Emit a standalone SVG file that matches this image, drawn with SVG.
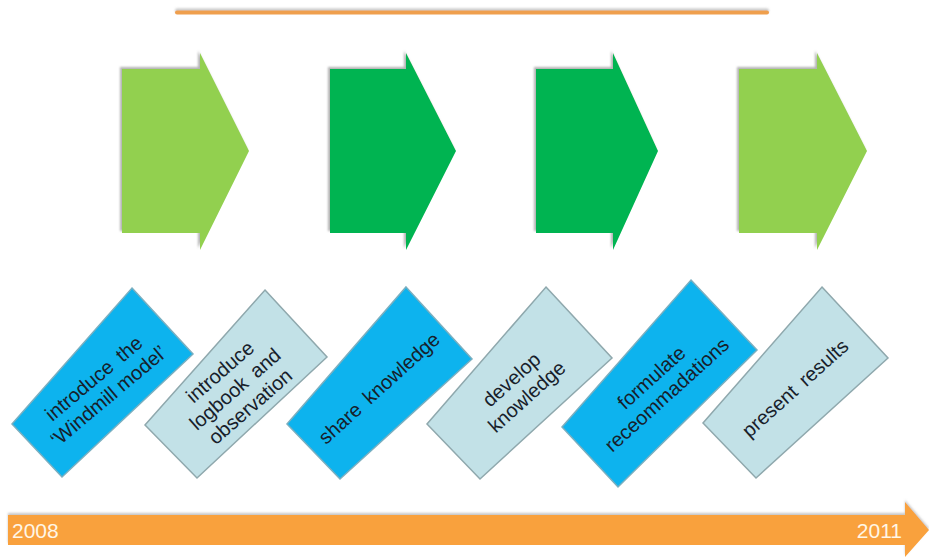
<svg xmlns="http://www.w3.org/2000/svg" width="929" height="557" viewBox="0 0 929 557">
<defs>
<filter id="sh" x="-10%" y="-10%" width="120%" height="120%">
<feDropShadow dx="-2" dy="-2" stdDeviation="1.2" flood-color="#808080" flood-opacity="0.6"/>
</filter>
<filter id="sh2" x="-5%" y="-100%" width="110%" height="300%">
<feDropShadow dx="0" dy="-2" stdDeviation="1.2" flood-color="#909090" flood-opacity="0.5"/>
</filter>
</defs>
<style>
.lg{fill:#92D050}
.dg{fill:#00B451}
.bl{fill:#0DB3EE;stroke:#7AAFC0;stroke-width:1.5}
.lb{fill:#C2E1E7;stroke:#8FA8AD;stroke-width:1.5}
.t{font-family:"Liberation Sans",Arial,sans-serif;font-size:20px;fill:#17202A;text-anchor:middle}
.yr{font-family:"Liberation Sans",Arial,sans-serif;font-size:21px;fill:#FFF6E6}
</style>
<rect width="929" height="557" fill="#FFFFFF"/>
<rect x="175" y="10.5" width="594" height="4" rx="2" fill="#EF9F4E" filter="url(#sh2)"/>
<g id="arrow1" filter="url(#sh)"><polygon class="lg" points="122,69 200,69 200,53 249,151 200,250 200,233 122,233"/></g>
<g id="arrow2" filter="url(#sh)"><polygon class="dg" points="330,69 406,69 406,53 456,151 406,250 406,233 330,233"/></g>
<g id="arrow3" filter="url(#sh)"><polygon class="dg" points="536,69 613,69 613,53 658,151 613,250 613,233 536,233"/></g>
<g id="arrow4" filter="url(#sh)"><polygon class="lg" points="739,69 817,69 817,53 867,151 817,250 817,233 739,233"/></g>
<g id="step1">
<polygon class="bl" points="132,288 193,354 62,477 12,424"/>
<g transform="translate(101,387) rotate(-40)"><text class="t" y="-4.5" word-spacing="4">introduce the</text><text class="t" y="18.5">‘Windmill model’</text></g>
</g>
<g id="step2">
<polygon class="lb" points="265,290 327,357 197,478 145,425"/>
<g transform="translate(235,389) rotate(-41)"><text class="t" y="-16">introduce</text><text class="t" y="7" word-spacing="4">logbook and</text><text class="t" y="30">observation</text></g>
</g>
<g id="step3">
<polygon class="bl" points="406,287 472,359 340,479 287,424"/>
<g transform="translate(379,388) rotate(-42)"><text class="t" y="7" word-spacing="4">share knowledge</text></g>
</g>
<g id="step4">
<polygon class="lb" points="546,287 612,358 480,479 427,424"/>
<g transform="translate(519,388) rotate(-42)"><text class="t" y="-4.5">develop</text><text class="t" y="18.5">knowledge</text></g>
</g>
<g id="step5">
<polygon class="bl" points="691,280 757,350 618,487 562,427"/>
<g transform="translate(659,386) rotate(-42)"><text class="t" y="-4.5">formulate</text><text class="t" y="18.5">receommadations</text></g>
</g>
<g id="step6">
<polygon class="lb" points="822,287 888,358 756,478 703,423"/>
<g transform="translate(795,388) rotate(-42)"><text class="t" y="7" word-spacing="4">present results</text></g>
</g>
<g id="timeline">
<polygon points="8,515 905,515 905,502 929,530 905,557 905,545 8,545" fill="#F9A13C" filter="url(#sh2)"/>
<text class="yr" x="12" y="538">2008</text>
<text class="yr" x="902" y="538" text-anchor="end">2011</text>
</g>
</svg>
